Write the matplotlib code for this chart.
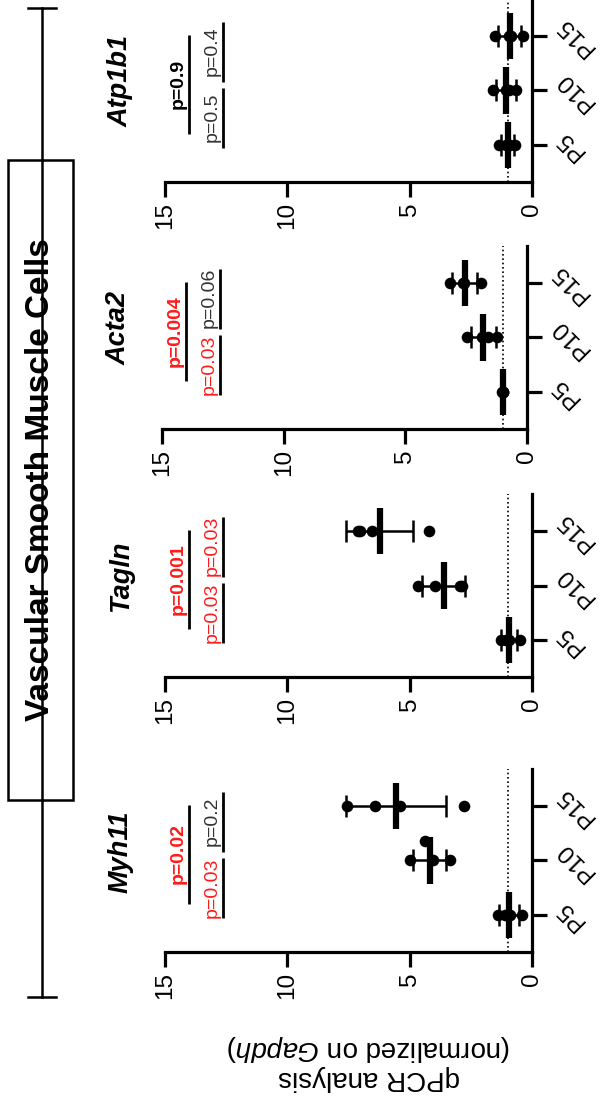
import matplotlib
matplotlib.use("Agg")
import matplotlib.pyplot as plt
from matplotlib.patches import Rectangle
from matplotlib.lines import Line2D
import numpy as np

plt.rcParams['font.family'] = ['Liberation Sans', 'DejaVu Sans']
plt.rcParams['mathtext.fontset'] = 'custom'
plt.rcParams['mathtext.rm'] = 'Liberation Sans'
plt.rcParams['mathtext.it'] = 'Liberation Sans:italic'

# ---------------- data ----------------
title = "Vascular Smooth Muscle Cells"
ylabel = "qPCR analysis\n(normalized on $\\mathit{Gapdh}$)"
genes = ["Myh11", "Tagln", "Acta2", "Atp1b1"]
ages = ["P5", "P10", "P15"]
value_ticks = [0, 5, 10, 15]

# replicate values per age (P5, P10, P15)
myh11 = [[1.38, 1.10, 0.90, 0.40], [4.99, 4.37, 4.03, 3.35], [7.57, 6.42, 5.39, 2.78]]
tagln = [[1.28, 1.06, 0.92, 0.50], [4.66, 3.98, 2.95, 2.85], [7.10, 7.05, 6.55, 4.20]]
acta2 = [[1.02, 1.00, 0.99, 0.99], [2.45, 1.85, 1.62, 1.25], [3.15, 2.62, 2.58, 1.90]]
atp1b1 = [[1.35, 1.05, 0.90, 0.70], [1.60, 1.05, 0.95, 0.65], [1.50, 0.95, 0.85, 0.35]]
series = [myh11, tagln, acta2, atp1b1]

# p-values: P5 vs P15, P5 vs P10, P10 vs P15
p_5_15 = [0.02, 0.001, 0.004, 0.9]
p_5_10 = [0.03, 0.03, 0.03, 0.5]
p_10_15 = [0.2, 0.03, 0.06, 0.4]

# ---------------- layout ----------------
W, H = 604, 1102
fig = plt.figure(figsize=(W / 100, H / 100), dpi=100)


def fx(px):
    return px / W


def fy(py):
    return 1 - py / H


panel_left = [165, 165, 162, 165]
panel_right = [532, 532, 527, 532]
panel_bottom = [952, 677, 429, 182]
panel_h = 183
jitter = {(0, 1, 1): 0.35}

RED = "#ff1a1a"
GREY = "#333333"


def ptxt(p):
    return "p=" + ("%g" % p)


for i, (gene, data) in enumerate(zip(genes, series)):
    l, r, b = panel_left[i], panel_right[i], panel_bottom[i]
    ax = fig.add_axes([fx(l), fy(b), fx(r - l), panel_h / H])
    ax.set_xlim(15, 0)
    ax.set_ylim(-0.68, 2.68)
    for s in ["left", "top"]:
        ax.spines[s].set_visible(False)
    for s in ["right", "bottom"]:
        ax.spines[s].set_linewidth(2.3)
    ax.yaxis.tick_right()
    ax.set_xticks(value_ticks)
    ax.set_xticklabels([str(v) for v in value_ticks], rotation=90, fontsize=17.5)
    ax.set_yticks(range(len(ages)))
    ax.set_yticklabels(ages, fontsize=17.5)
    for lab in ax.get_yticklabels():
        lab.set_rotation(135)
        lab.set_va("center")
        lab.set_ha("left")
    ax.tick_params(length=11, width=2.3, pad=3.5)
    ax.axvline(1, ls=(0, (1, 1.6)), lw=1.2, color="black", zorder=1)

    for c, vals in enumerate(data):
        vals = np.asarray(vals)
        m = vals.mean()
        sd = vals.std(ddof=1)
        ax.errorbar(m, c, xerr=sd, fmt="none", ecolor="black", elinewidth=1.8,
                    capsize=8, capthick=1.8, zorder=2)
        ax.vlines(m, c - 0.43, c + 0.43, lw=4.5, color="black", zorder=3)
        ys = [c + jitter.get((i, c, k), 0.0) for k in range(len(vals))]
        ax.scatter(vals, ys, s=70, color="black", zorder=4, clip_on=False,
                   linewidths=0)

    # gene title
    ax.text(16.8, 1.17, gene, rotation=90, ha="center", va="center",
            fontsize=19.5, fontweight="bold", style="italic", clip_on=False)

    # significance annotations
    def col(p):
        return RED if p < 0.05 else GREY

    ax.plot([14.0, 14.0], [0.2, 2.02], color="black", lw=2, clip_on=False,
            solid_capstyle="butt")
    ax.text(14.1, 1.12, ptxt(p_5_15[i]), rotation=90, ha="right", va="center",
            fontsize=14, fontweight="bold",
            color=(RED if p_5_15[i] < 0.05 else "black"), clip_on=False)
    ax.plot([12.62, 12.62], [-0.05, 1.05], color="black", lw=2, clip_on=False,
            solid_capstyle="butt")
    ax.text(12.72, 0.5, ptxt(p_5_10[i]), rotation=90, ha="right", va="center",
            fontsize=14, color=col(p_5_10[i]), clip_on=False)
    ax.plot([12.62, 12.62], [1.15, 2.25], color="black", lw=2, clip_on=False,
            solid_capstyle="butt")
    ax.text(12.72, 1.72, ptxt(p_10_15[i]), rotation=90, ha="right", va="center",
            fontsize=14, color=col(p_10_15[i]), clip_on=False)

# title bracket + box
fig.add_artist(Line2D([fx(42), fx(42)], [fy(8), fy(997)], transform=fig.transFigure,
                      color="black", lw=1.8))
for yy in (8, 997):
    fig.add_artist(Line2D([fx(28), fx(56)], [fy(yy), fy(yy)], transform=fig.transFigure,
                          color="black", lw=1.8))
fig.add_artist(Rectangle((fx(8), fy(800)), fx(65), 640 / H, transform=fig.transFigure,
                         facecolor="white", edgecolor="black", lw=1.8))
fig.text(fx(41), fy(480), title, rotation=90, ha="center", va="center",
         fontsize=24, fontweight="bold")

# y label (rotated with the figure)
fig.text(fx(369), fy(1062), ylabel, rotation=180, ha="center", va="center",
         fontsize=20, linespacing=1.05)

fig.savefig("out.png", dpi=100)
